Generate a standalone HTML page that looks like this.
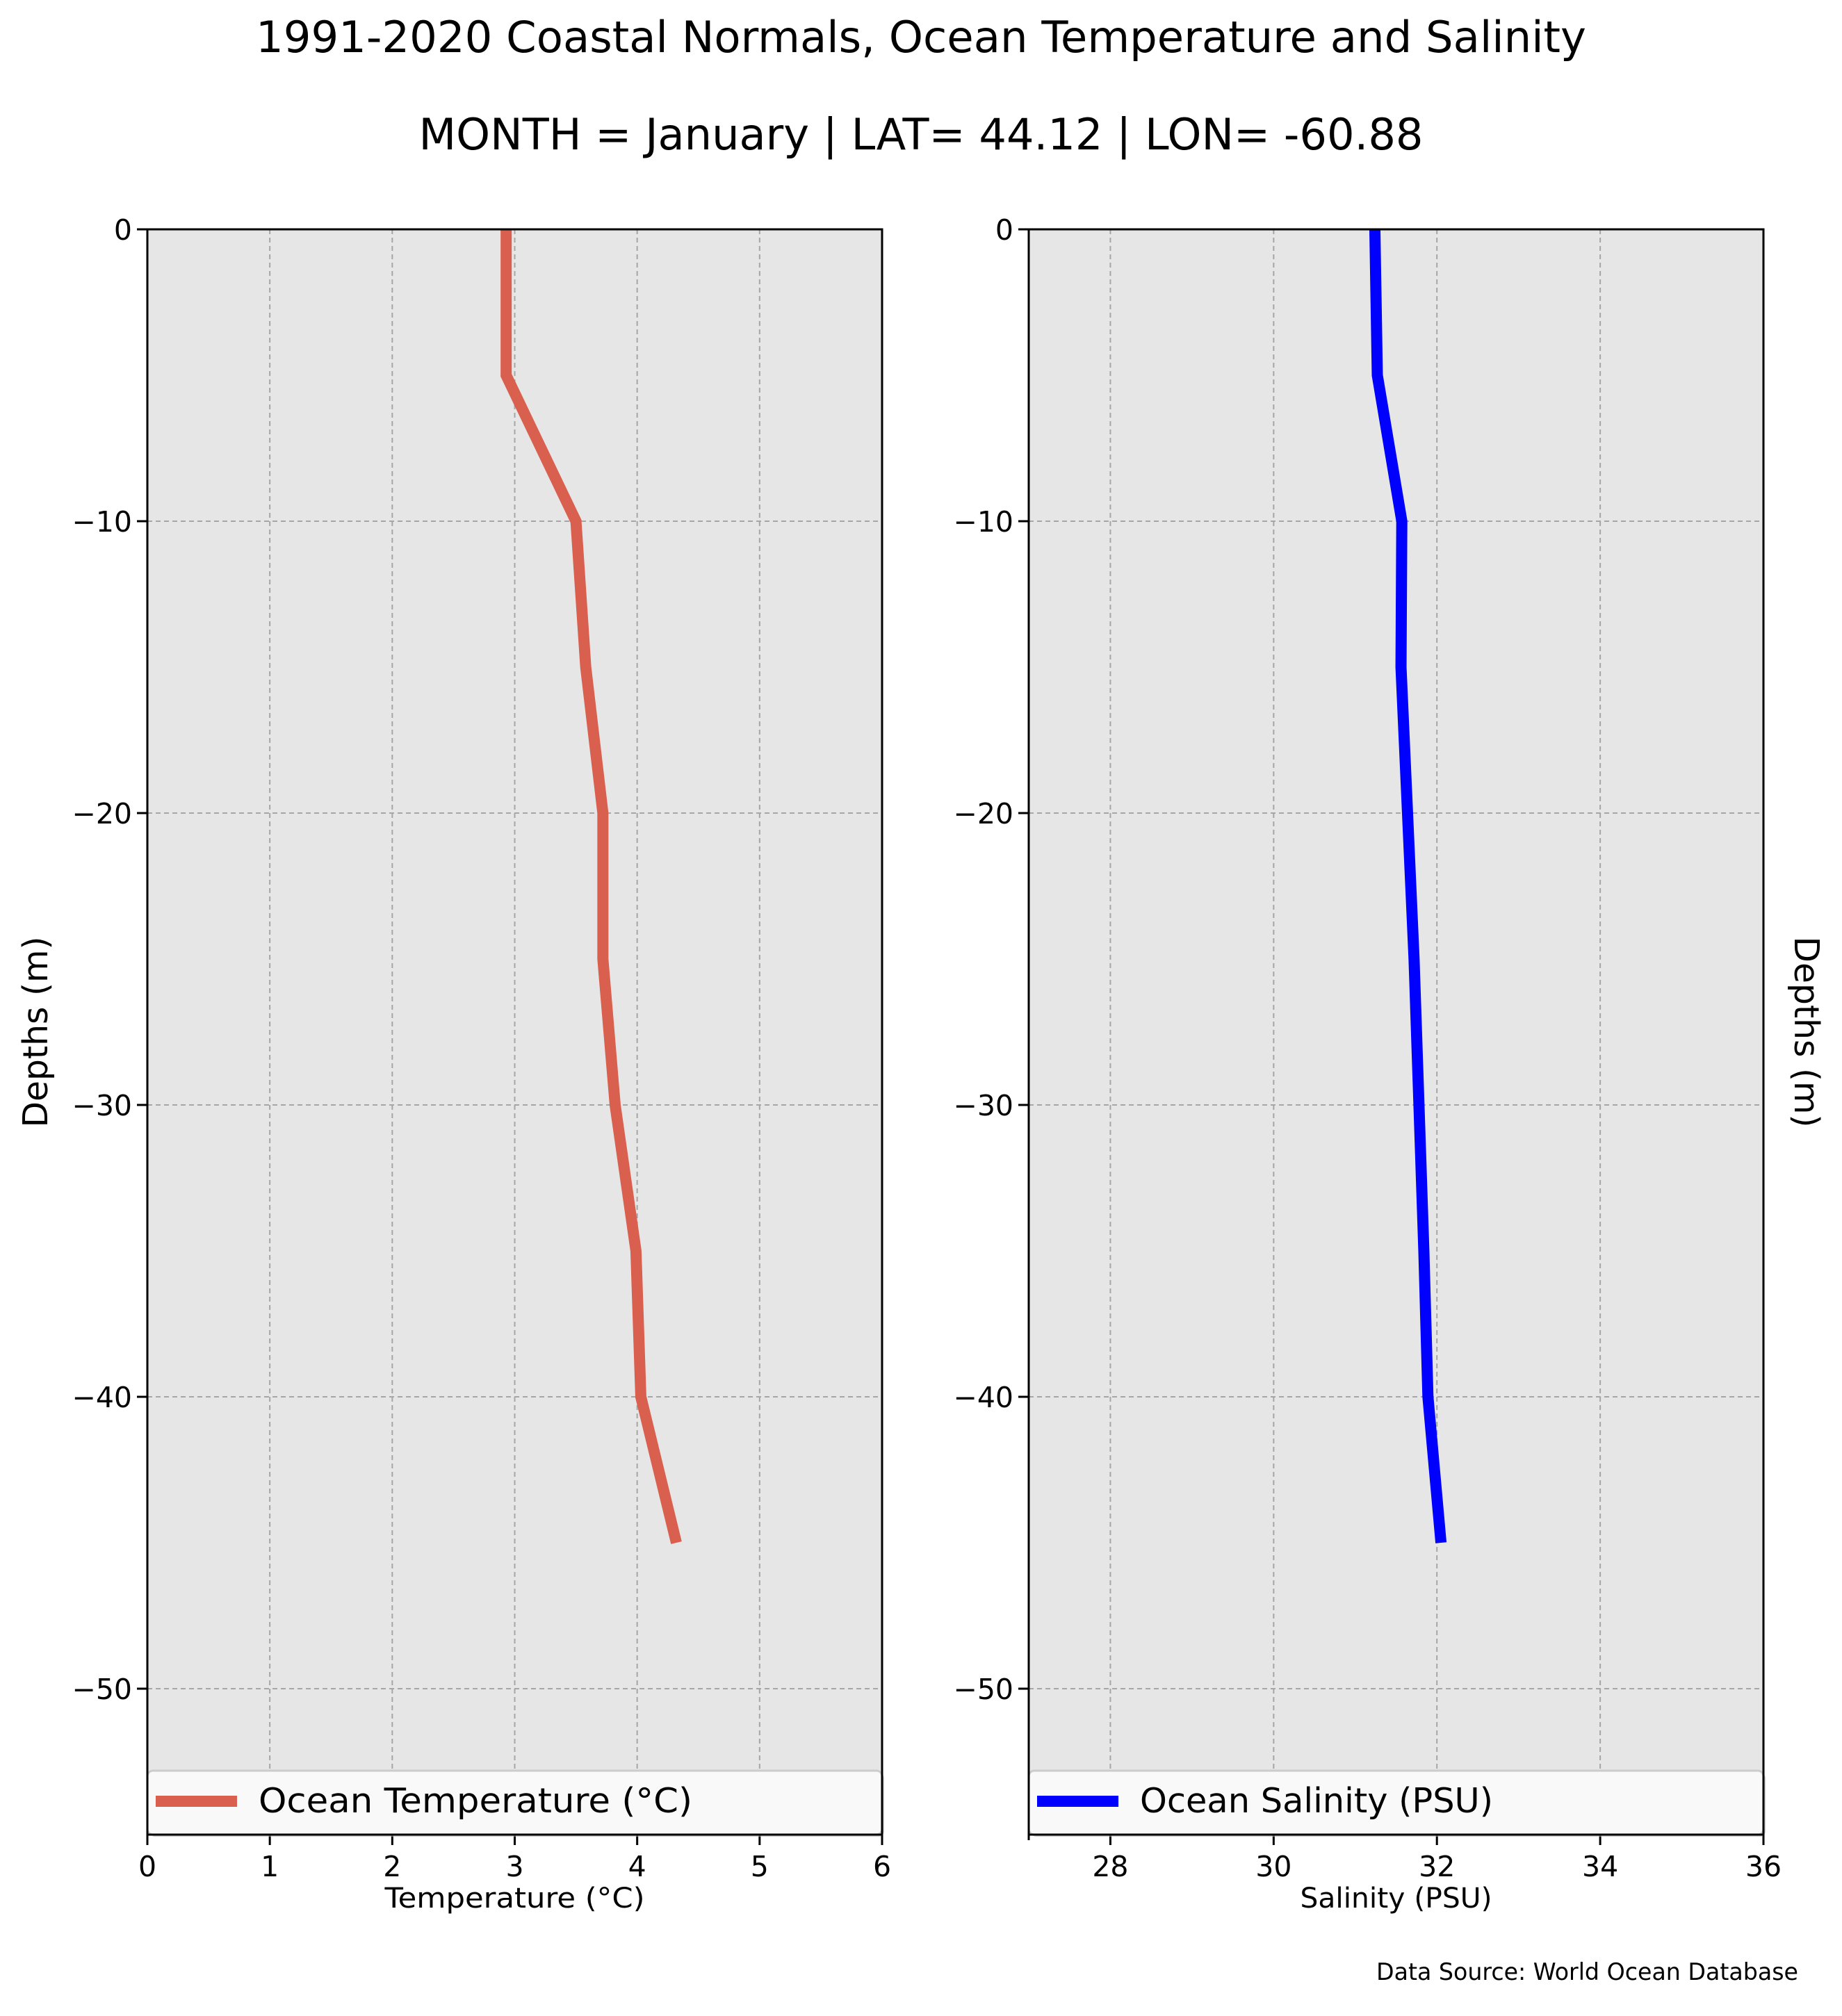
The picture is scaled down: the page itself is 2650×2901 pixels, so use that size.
<!DOCTYPE html>
<html><head><meta charset="utf-8"><style>
html,body{margin:0;padding:0;background:#fff;}
svg{display:block;font-family:"DejaVu Sans","Liberation Sans",sans-serif;}
</style></head><body>
<svg id="chart" xmlns="http://www.w3.org/2000/svg" width="2650" height="2901" viewBox="0 0 2650 2901">
<rect width="2650" height="2901" fill="#fff"/>
<text x="1325" y="75" font-size="62" text-anchor="middle" textLength="1914" lengthAdjust="spacingAndGlyphs">1991-2020 Coastal Normals, Ocean Temperature and Salinity</text>
<text x="1325" y="215" font-size="62" text-anchor="middle" textLength="1445" lengthAdjust="spacingAndGlyphs">MONTH = January | LAT= 44.12 | LON= -60.88</text>
<text x="2587" y="2849" font-size="34" text-anchor="end" textLength="607" lengthAdjust="spacingAndGlyphs">Data Source: World Ocean Database</text>
<g id="g1"></g><g id="g2"></g>
</svg>
<script>
const depths = [0, -5, -10, -15, -20, -25, -30, -35, -40, -45];
const temperature = [2.93, 2.93, 3.50, 3.58, 3.72, 3.72, 3.82, 3.99, 4.03, 4.32];
const salinity = [31.24, 31.27, 31.57, 31.56, 31.64, 31.72, 31.78, 31.84, 31.89, 32.05];
const yTicks = [0, -10, -20, -30, -40, -50];
const tempTicks = [0, 1, 2, 3, 4, 5, 6];
const salTicks = [28, 30, 32, 34, 36];

const NS = "http://www.w3.org/2000/svg";
function mk(parent, tag, attrs){const e=document.createElementNS(NS,tag);for(const k in attrs)e.setAttribute(k,attrs[k]);parent.appendChild(e);return e;}

function panel(g, o){
  const L=o.x0, R=o.x1, T=330, B=2640;
  const sx=v=>L+(v-o.xmin)/(o.xmax-o.xmin)*(R-L);
  const sy=v=>T+(0-v)/55*(B-T);
  const bg=mk(g,'rect',{x:L,y:T,width:R-L,height:B-T,fill:'#e6e6e6'});
  
  
  o.ticks.forEach(t=>{
    const gl=mk(g,'line',{x1:sx(t),x2:sx(t),y1:T,y2:B,stroke:'#a6a6a6','stroke-width':2,'stroke-dasharray':'7,5'});
    
    
    const tk=mk(g,'line',{x1:sx(t),x2:sx(t),y1:B,y2:B+15,stroke:'#000','stroke-width':3});
    
    
    const tl=mk(g,'text',{x:sx(t),y:2700,'font-size':41,'text-anchor':'middle'});
    tl.textContent=t;
    
    
  });
  if(o.minorEdge){
    const mt=mk(g,'line',{x1:L,x2:L,y1:B,y2:B+8,stroke:'#000','stroke-width':3});
    
    
  }
  yTicks.forEach(t=>{
    if(t!==0){
      const gl=mk(g,'line',{x1:L,x2:R,y1:sy(t),y2:sy(t),stroke:'#a6a6a6','stroke-width':2,'stroke-dasharray':'7,5'});
      
      
    }
    const tk=mk(g,'line',{x1:L-15,x2:L,y1:sy(t),y2:sy(t),stroke:'#000','stroke-width':3});
    
    
    const tl=mk(g,'text',{x:L-22,y:sy(t)+15,'font-size':41,'text-anchor':'end'});
    tl.textContent=(t<0?'\u2212'+(-t):t);
    
    
  });
  const pts=depths.map((d,i)=>sx(o.vals[i])+','+sy(d)).join(' ');
  const pl=mk(g,'polyline',{points:pts,fill:'none',stroke:o.color,'stroke-width':16,'stroke-linejoin':'miter','stroke-linecap':'butt'});
  
  
  // legend
  const lg=mk(g,'g',{});
  
  
  mk(lg,'rect',{x:L+3,y:2551,width:R-L,height:92,rx:8,fill:'#b0b0b0',opacity:0.6});
  mk(lg,'rect',{x:L,y:2548,width:R-L,height:92,rx:8,fill:'#f9f9f9',stroke:'#cccccc','stroke-width':3});
  mk(lg,'line',{x1:L+12,x2:L+129,y1:2592,y2:2592,stroke:o.color,'stroke-width':16});
  const lt=mk(lg,'text',{x:L+160,y:2608,'font-size':49,textLength:o.legendLen,lengthAdjust:'spacingAndGlyphs'});
  lt.textContent=o.legend;
  
  
  const fr=mk(g,'rect',{x:L,y:T,width:R-L,height:B-T,fill:'none',stroke:'#000','stroke-width':3});
  
  
  const xl=mk(g,'text',{x:(L+R)/2,y:2745,'font-size':40,'text-anchor':'middle',textLength:o.xlabLen,lengthAdjust:'spacingAndGlyphs'});
  xl.textContent=o.xlabel;
  
  
  const yl=mk(g,'text',{x:0,y:0,'font-size':49,'text-anchor':'middle',textLength:275,lengthAdjust:'spacingAndGlyphs',
     transform:o.ylabRight?'translate(2582,1485) rotate(90)':'translate(68,1485) rotate(-90)'});
  yl.textContent='Depths (m)';
  
  
}
panel(document.getElementById('g1'),{key:'temperature',x0:212,x1:1269,xmin:0,xmax:6,ticks:tempTicks,vals:temperature,color:'#d9604f',
  legend:'Ocean Temperature (\u00B0C)',legendLen:624,xlabel:'Temperature (\u00B0C)',xlabLen:374,ylabRight:false});
panel(document.getElementById('g2'),{key:'salinity',x0:1480,x1:2537,xmin:27,xmax:36,ticks:salTicks,vals:salinity,color:'#0000ff',
  legend:'Ocean Salinity (PSU)',legendLen:508,xlabel:'Salinity (PSU)',xlabLen:276,ylabRight:true,minorEdge:true});
</script>
</body></html>
